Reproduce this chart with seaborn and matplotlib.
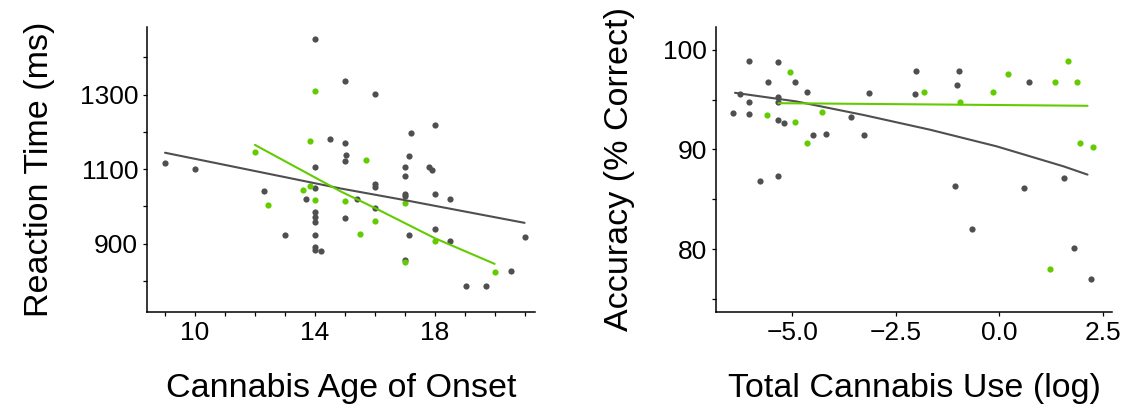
import numpy as np
import pandas as pd
import matplotlib
matplotlib.use("Agg")
import matplotlib.pyplot as plt
from matplotlib.ticker import FixedLocator
import seaborn as sns

GRAY = "#4f4f4f"
GREEN = "#62cc00"

# left panel: age of onset vs reaction time
onset_gray_age = [9, 10, 12.3, 13, 13.7, 14, 14, 14, 14, 14, 14, 14, 14, 14, 14.2, 14.5,
                  15, 15, 15.05, 15, 15, 15.4, 16, 16, 16, 16, 17.2, 17.15, 17, 17, 17, 17,
                  17.15, 17, 17.8, 17.9, 18, 18, 18, 18.5, 18.5, 19.05, 19.7, 20.55, 21]
onset_gray_rt = [1116, 1100, 1041, 923, 1020, 1448, 1105, 1049, 984, 971, 958, 923, 891, 884, 880, 1180,
                 1336, 1170, 1137, 1121, 969, 1020, 1301, 1060, 1052, 996, 1196, 1135, 1105, 1081, 1034, 1028,
                 923, 857, 1105, 1097, 1218, 1033, 939, 1020, 907, 787, 787, 827, 918]
onset_green_age = [12, 12.45, 13.6, 13.85, 13.85, 14, 14, 15.7, 15, 15.5, 16, 17, 17, 18, 20]
onset_green_rt = [1145, 1003, 1044, 1054, 1175, 1309, 1017, 1124, 1014, 926, 961, 1009, 851, 907, 824]

# fitted curves
fit_onset_gray_x = [9, 12, 14.87, 17, 21]
fit_onset_gray_y = [1144, 1095, 1048, 1017, 956]
fit_onset_green_x = [12, 14.87, 16, 18, 20]
fit_onset_green_y = [1165, 1040, 996, 915, 846]

# right panel: total use (log) vs accuracy
use_gray_x = [-6.44, -6.27, -6.05, -6.05, -6.05, -5.77, -5.58, -5.35, -5.35, -5.35, -5.35, -5.35,
              -5.19, -4.94, -4.65, -4.49, -4.19, -3.58, -3.26, -3.14, -2.0, -2.03, -0.97, -1.02,
              -1.06, -0.66, 0.71, 0.60, 1.57, 1.80, 2.22]
use_gray_acc = [93.6, 95.6, 98.9, 94.7, 93.5, 86.8, 96.8, 98.8, 95.3, 94.7, 92.9, 87.3,
                92.6, 96.8, 95.8, 91.4, 91.5, 93.2, 91.4, 95.7, 97.9, 95.6, 97.9, 96.5,
                86.3, 82.0, 96.8, 86.1, 87.1, 80.1, 77.0]
use_green_x = [-5.06, -5.60, -4.94, -4.28, -4.65, -1.82, -0.95, -0.16, 0.20, 1.34, 1.65, 1.88,
               1.94, 2.26, 1.22]
use_green_acc = [97.8, 93.4, 92.7, 93.7, 90.6, 95.8, 94.7, 95.8, 97.6, 96.8, 98.9, 96.8,
                 90.6, 90.2, 78.0]

fit_use_gray_x = [-6.38, -4.89, -3.28, -1.67, -0.06, 1.55, 2.13]
fit_use_gray_y = [95.67, 94.8, 93.45, 91.97, 90.3, 88.3, 87.47]
fit_use_green_x = [-5.33, -1.5, 2.13]
fit_use_green_y = [94.63, 94.5, 94.37]

sns.set_style("white")
plt.rcParams["font.family"] = ["Liberation Sans", "DejaVu Sans"]
plt.rcParams["text.color"] = "black"
plt.rcParams["axes.labelcolor"] = "black"
plt.rcParams["xtick.color"] = "black"
plt.rcParams["ytick.color"] = "black"

fig = plt.figure(figsize=(11.25, 4.13), dpi=100)
ax1 = fig.add_axes([0.1307, 0.2446, 0.3449, 0.6908])
ax2 = fig.add_axes([0.6364, 0.2446, 0.3520, 0.6908])


def panel(ax, gx, gy, cx, cy, fgx, fgy, fcx, fcy):
    sns.scatterplot(x=gx, y=gy, color=GRAY, s=20, linewidth=0, ax=ax, zorder=3)
    sns.scatterplot(x=cx, y=cy, color=GREEN, s=20, linewidth=0, ax=ax, zorder=4)
    sns.lineplot(x=fgx, y=fgy, color=GRAY, linewidth=1.5, ax=ax, zorder=5)
    sns.lineplot(x=fcx, y=fcy, color=GREEN, linewidth=1.5, ax=ax, zorder=6)
    sns.despine(ax=ax)
    for s in ["left", "bottom"]:
        ax.spines[s].set_color("black")
        ax.spines[s].set_linewidth(1.1)
    ax.tick_params(which="both", direction="out", length=3, width=0.9, color="black",
                   labelsize=19, labelcolor="black", left=True, bottom=True)


panel(ax1, onset_gray_age, onset_gray_rt, onset_green_age, onset_green_rt,
      fit_onset_gray_x, fit_onset_gray_y, fit_onset_green_x, fit_onset_green_y)
ax1.set_xlim(8.4, 21.35)
ax1.set_ylim(717, 1482)
ax1.set_xticks([10, 14, 18])
ax1.xaxis.set_minor_locator(FixedLocator([9, 11, 12, 13, 15, 16, 17, 19, 20, 21]))
ax1.set_yticks([900, 1100, 1300])
ax1.yaxis.set_minor_locator(FixedLocator([800, 1000, 1200, 1400]))
ax1.set_xlabel("Cannabis Age of Onset", fontsize=24.5, labelpad=20, color="black")
ax1.set_ylabel("Reaction Time (ms)", fontsize=24.5, labelpad=18, color="black")

panel(ax2, use_gray_x, use_gray_acc, use_green_x, use_green_acc,
      fit_use_gray_x, fit_use_gray_y, fit_use_green_x, fit_use_green_y)
ax2.set_xlim(-6.84, 2.72)
ax2.set_ylim(73.7, 102.3)
ax2.set_xticks([-5.0, -2.5, 0.0, 2.5])
ax2.set_xticklabels(["\u22125.0", "\u22122.5", "0.0", "2.5"])
ax2.set_yticks([80, 90, 100])
ax2.yaxis.set_minor_locator(FixedLocator([75, 85, 95]))
ax2.set_xlabel("Total Cannabis Use (log)", fontsize=24.5, labelpad=20, color="black")
ax2.set_ylabel("Accuracy (% Correct)", fontsize=24.5, labelpad=20, color="black")

fig.savefig("out.png", dpi=100)
